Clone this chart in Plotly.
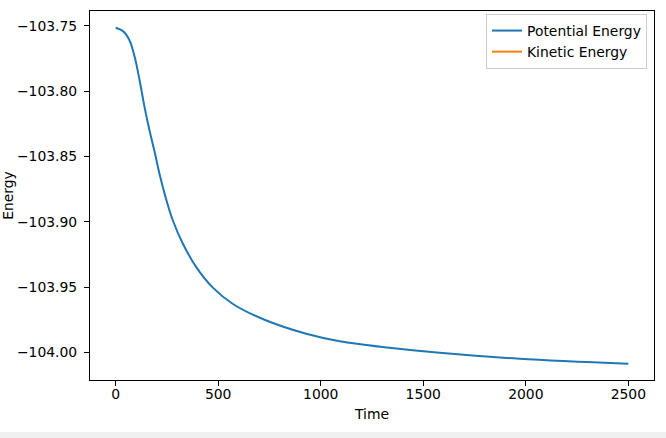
import plotly.graph_objects as go

# Data
time = [0, 36, 68, 93, 117, 141, 165, 192, 214, 243, 279, 328, 393, 474, 572, 726, 929,
        1092, 1335, 1579, 1969, 2500]
potential = [-103.7515, -103.7541, -103.7613, -103.7740, -103.7919, -103.8123, -103.8300,
             -103.8478, -103.8635, -103.8810, -103.8991, -103.9169, -103.9348, -103.9505,
             -103.9630, -103.9751, -103.9858, -103.9915, -103.9965, -104.0004, -104.0050,
             -104.0088]
# Kinetic energy appears only in the legend (no visible data)
kinetic_time = [0]
kinetic = [None]

x_ticks = [0, 500, 1000, 1500, 2000, 2500]
y_ticks = [-103.75, -103.80, -103.85, -103.90, -103.95, -104.00]
y_tick_labels = ["\u2212103.75", "\u2212103.80", "\u2212103.85", "\u2212103.90", "\u2212103.95", "\u2212104.00"]

FONT = "DejaVu Sans"
FS = 13.9

fig = go.Figure()
fig.add_trace(go.Scatter(x=time, y=potential, mode="lines", name="Potential Energy",
                         line=dict(color="#1f77b4", width=2, shape="spline", smoothing=1.0)))
fig.add_trace(go.Scatter(x=kinetic_time, y=kinetic, mode="lines", name="Kinetic Energy",
                         showlegend=True, line=dict(color="#ff7f0e", width=2)))

axis_common = dict(showgrid=False, zeroline=False, showline=True, linecolor="black", linewidth=1,
                   mirror=True, ticks="outside", ticklen=5, tickcolor="black", tickwidth=1,
                   automargin=False,
                   tickfont=dict(family=FONT, size=FS, color="black"))

fig.update_layout(
    width=666, height=438,
    margin=dict(l=90, r=12, t=11, b=58, pad=0),
    paper_bgcolor="white", plot_bgcolor="white",
    font=dict(family=FONT, size=FS, color="black"),
    showlegend=True,
    legend=dict(x=0.9876, y=0.9918, xanchor="right", yanchor="top",
                bgcolor="rgba(255,255,255,0.8)", bordercolor="#cccccc", borderwidth=1,
                font=dict(family=FONT, size=FS, color="black")),
    xaxis=dict(range=[-125, 2625], tickvals=x_ticks, ticktext=[str(v) for v in x_ticks],
               title=dict(text="Time", font=dict(family=FONT, size=FS), standoff=8),
               ticklabelstandoff=-4, **axis_common),
    yaxis=dict(range=[-104.0212, -103.7387], tickvals=y_ticks, ticktext=y_tick_labels,
               title=dict(text="Energy", font=dict(family=FONT, size=FS), standoff=6),
               ticklabelstandoff=4, **axis_common),
    shapes=[dict(type="rect", xref="paper", yref="paper", x0=-90/564, x1=576/564,
                 y0=-58/369, y1=-52/369, fillcolor="#f0f0f0", line=dict(width=0), layer="below")],
)

fig.write_html("out.html", config={"displayModeBar": False},
               post_script="document.body.style.margin='0';")
